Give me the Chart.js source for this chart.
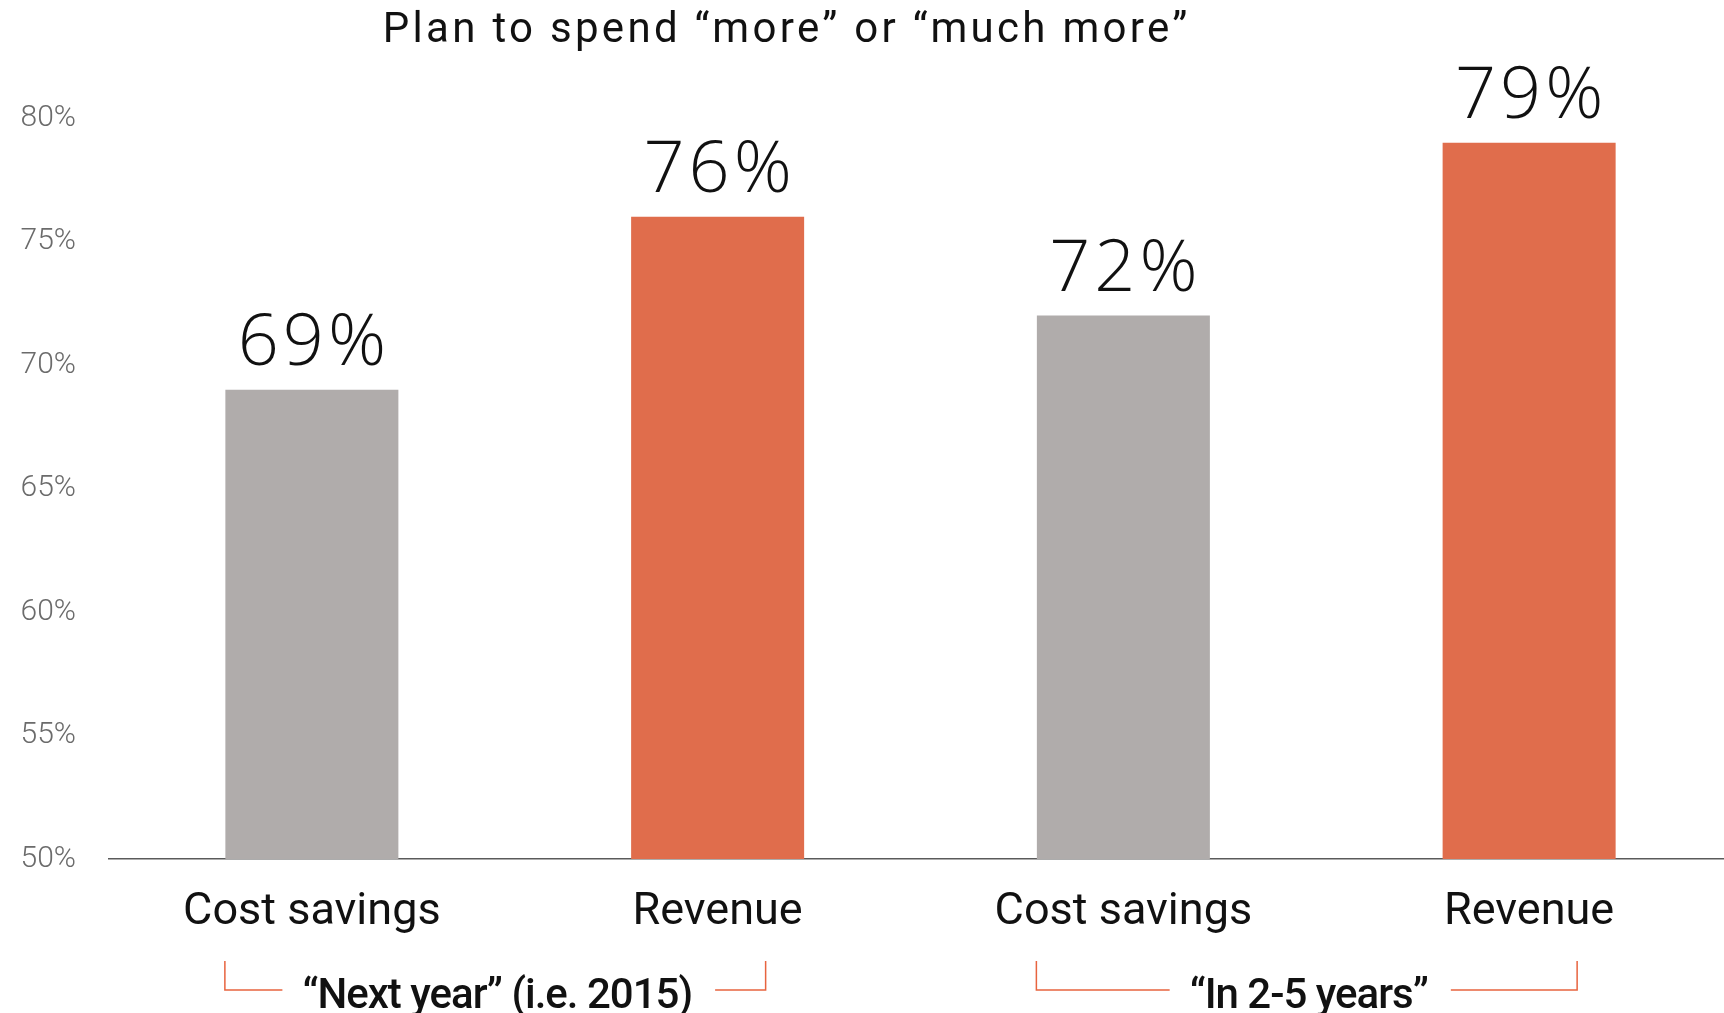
<!DOCTYPE html>
<html>
<head>
<meta charset="utf-8">
<title>Plan to spend more</title>
<script src="https://cdn.jsdelivr.net/npm/chart.js@4/dist/chart.umd.min.js"></script>
<style>
  html, body { margin: 0; padding: 0; background: #fff; overflow: hidden; }
  #wrap { position: absolute; left: 0; top: 0; width: 1732px; height: 1013px; }
</style>
</head>
<body>
<div id="wrap"><canvas id="barChart"></canvas></div>
<script>
// Dados do gráfico
const categorias = ['Cost savings', 'Revenue', 'Cost savings', 'Revenue'];
const valores = [69, 76, 72, 79];
const cores = ['#b0acab', '#e06d4c', '#b0acab', '#e06d4c'];
const ticksY = [50, 55, 60, 65, 70, 75, 80];
const grupos = ['\u201CNext year\u201D (i.e. 2015)', '\u201CIn 2-5 years\u201D'];
const gruposIndices = [[0, 1], [2, 3]];
const titulo = 'Plan to spend \u201Cmore\u201D or \u201Cmuch more\u201D';

const FONTE = 'Roboto, "Noto Sans", sans-serif';

// escreve texto centrado em x com espaçamento entre letras
function textoEspacado(ctx, str, x, y, espaco) {
    ctx.letterSpacing = '0px';
    const n = [...str].length;
    const w = ctx.measureText(str).width + (n - 1) * espaco;
    ctx.letterSpacing = espaco + 'px';
    ctx.textAlign = 'left';
    ctx.fillText(str, x - w / 2, y);
    ctx.letterSpacing = '0px';
    return w;
}

// Título, rótulos de valor e colchetes dos grupos
const extras = {
    id: 'extras',
    afterDatasetsDraw(chart) {
        const ctx = chart.ctx;
        const meta = chart.getDatasetMeta(0);
        ctx.save();
        ctx.fillStyle = '#111';
        ctx.textBaseline = 'alphabetic';
        ctx.font = '300 72px "Open Sans", ' + FONTE;
        meta.data.forEach((bar, i) => {
            textoEspacado(ctx, Math.round(valores[i]) + '%', bar.x, bar.y - 25, 4);
        });
        ctx.restore();
    },
    afterDraw(chart) {
        const ctx = chart.ctx;
        const x = chart.scales.x;
        const base = chart.chartArea.bottom;
        ctx.save();
        // título
        ctx.fillStyle = '#111';
        ctx.font = '400 42px ' + FONTE;
        ctx.textBaseline = 'alphabetic';
        textoEspacado(ctx, titulo, 785, 42, 3.3);

        // colchetes
        ctx.font = '500 42px ' + FONTE;
        gruposIndices.forEach((idx, g) => {
            const p0 = x.getPixelForValue(idx[0]);
            const p1 = x.getPixelForValue(idx[idx.length - 1]);
            const esq = p0 - 87;
            const dir = p1 + 48;
            const meio = (p0 + p1) / 2 - 17;
            ctx.letterSpacing = '0px';
            const larg = ctx.measureText(grupos[g]).width + ([...grupos[g]].length - 1) * -1;
            const yTopo = base + 102;
            const yLinha = base + 131;
            ctx.strokeStyle = '#e8643f';
            ctx.lineWidth = 1.5;
            ctx.beginPath();
            ctx.moveTo(esq, yTopo);
            ctx.lineTo(esq, yLinha);
            ctx.lineTo(meio - larg / 2 - 20, yLinha);
            ctx.moveTo(meio + larg / 2 + 22, yLinha);
            ctx.lineTo(dir, yLinha);
            ctx.lineTo(dir, yTopo);
            ctx.stroke();
            ctx.fillStyle = '#111';
            textoEspacado(ctx, grupos[g], meio, base + 149, -1);
        });
        ctx.restore();
    }
};

new Chart(document.getElementById('barChart'), {
    type: 'bar',
    data: {
        labels: categorias,
        datasets: [{
            data: valores,
            backgroundColor: cores,
            borderWidth: 0,
            categoryPercentage: 1,
            barPercentage: 0.4264
        }]
    },
    options: {
        responsive: true,
        maintainAspectRatio: false,
        animation: false,
        layout: { padding: { top: 118, left: 0, right: 0, bottom: 0 } },
        plugins: {
            legend: { display: false },
            tooltip: { enabled: false },
            title: { display: false }
        },
        scales: {
            x: {
                grid: { display: false, drawTicks: false },
                border: { display: true, color: '#5a5a5a', width: 1.5 },
                ticks: {
                    color: '#111',
                    padding: 27,
                    font: { family: FONTE, size: 45, weight: '400' }
                },
                afterFit: scale => { scale.height = 154; }
            },
            y: {
                min: ticksY[0],
                max: ticksY[ticksY.length - 1],
                grid: { display: false, drawTicks: false },
                border: { display: false },
                afterBuildTicks: scale => { scale.ticks = ticksY.map(v => ({ value: v })); },
                ticks: {
                    color: '#6b6b6b',
                    padding: 33,
                    font: { family: FONTE, size: 30, weight: '300' },
                    callback: v => v + '%'
                },
                afterFit: scale => { scale.width = 109; }
            }
        }
    },
    plugins: [extras]
});
</script>
</body>
</html>
